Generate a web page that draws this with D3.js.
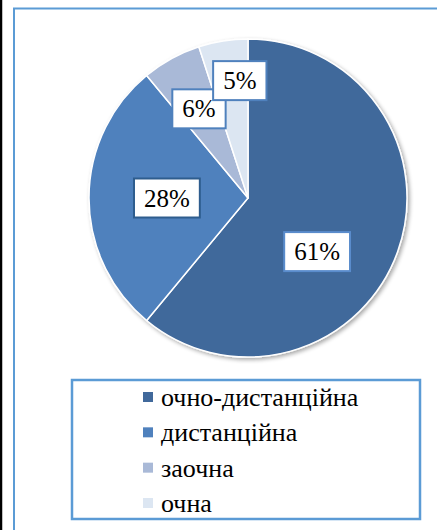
<!DOCTYPE html>
<html>
<head>
<meta charset="utf-8">
<script src="https://cdn.jsdelivr.net/npm/d3@7"></script>
<style>
  body { margin: 0; background: #fff; }
  #chart { position: relative; width: 437px; height: 530px; }
  #chart svg { position: absolute; left: 0; top: 0; }
  .txt { position: absolute; font-family: "Liberation Serif", "Times New Roman", serif;
         font-size: 25px; line-height: 1; color: #000; white-space: nowrap; }
  .leg { font-size: 26px; }
</style>
</head>
<body>
<div id="chart"></div>
<script>
// data
var categories = ["очно-дистанційна", "дистанційна", "заочна", "очна"];
var shares = [61, 28, 6, 5];
var labels = ["61%", "28%", "6%", "5%"];

var W = 437, H = 530;
var cx = 248, cy = 198, R = 159;

var colors = ["#41699b", "#4f81bd", "#a9b9d7", "#dce6f2"];
var labelBorders = ["#5a8ccc", "#2e5d8e", "#4f81bd", "#4f81bd"];
// label placement: radius fraction + angle nudge (deg), roughly Excel best-fit
var labelRadius = [0.55, 0.51, 0.64, 0.74];
var labelNudge = [18, 0, 0, 5];

var chart = d3.select("#chart");
var svg = chart.append("svg")
    .attr("width", W)
    .attr("height", H);

var defs = svg.append("defs");
var shadow = defs.append("filter").attr("id", "shadow")
    .attr("x", "-10%").attr("y", "-10%").attr("width", "120%").attr("height", "120%");
shadow.append("feGaussianBlur").attr("in", "SourceAlpha").attr("stdDeviation", 2);
shadow.append("feOffset").attr("dx", 1.5).attr("dy", 1.5).attr("result", "off");
shadow.append("feComponentTransfer").append("feFuncA").attr("type", "linear").attr("slope", 0.35);
var merge = shadow.append("feMerge");
merge.append("feMergeNode");
merge.append("feMergeNode").attr("in", "SourceGraphic");

// page frame bits
svg.append("line")
    .attr("x1", 1).attr("x2", 1).attr("y1", 0).attr("y2", H)
    .attr("stroke", "#000").attr("stroke-width", 2.5);
svg.append("path")
    .attr("d", "M14," + H + "V8.5H" + W)
    .attr("fill", "none")
    .attr("stroke", "#5b9bd5")
    .attr("stroke-width", 2);

var color = d3.scaleOrdinal().domain(categories).range(colors);

var pie = d3.pie().sort(null).value(function(d) { return d.v; });
var data = categories.map(function(c, i) { return {name: c, v: shares[i], label: labels[i], i: i}; });
var arcs = pie(data);

var arc = d3.arc().innerRadius(0).outerRadius(R);

var g = svg.append("g").attr("transform", "translate(" + cx + "," + cy + ")");

g.append("g")
    .attr("filter", "url(#shadow)")
    .selectAll("path")
    .data(arcs)
    .enter().append("path")
    .attr("d", arc)
    .attr("fill", function(d) { return color(d.data.name); })
    .attr("stroke", "#fff")
    .attr("stroke-width", 1.5)
    .attr("stroke-linejoin", "round");

function labelPos(d) {
    var a = (d.startAngle + d.endAngle) / 2 + labelNudge[d.data.i] * Math.PI / 180;
    var r = R * labelRadius[d.data.i];
    return [cx + r * Math.sin(a), cy - r * Math.cos(a)];
}

// data labels: box in svg, text as html on top
var boxes = svg.append("g");
arcs.forEach(function(d) {
    var p = labelPos(d);
    var t = chart.append("div")
        .attr("class", "txt")
        .text(d.data.label);
    var tw = t.node().getBoundingClientRect().width;
    var th = t.node().getBoundingClientRect().height;
    t.style("left", (p[0] - tw / 2) + "px")
     .style("top", (p[1] - th / 2) + "px");
    var w = tw + 20, h = 39;
    boxes.append("rect")
        .attr("x", p[0] - w / 2).attr("y", p[1] - h / 2)
        .attr("width", w).attr("height", h)
        .attr("fill", "#fff")
        .attr("stroke", labelBorders[d.data.i])
        .attr("stroke-width", 2);
});

// legend
var legend = svg.append("g");
legend.append("rect")
    .attr("x", 72).attr("y", 380)
    .attr("width", 348).attr("height", 139)
    .attr("fill", "#fff")
    .attr("stroke", "#5b9bd5")
    .attr("stroke-width", 2.5);

var ly = d3.scalePoint().domain(categories).range([397, 503]);

legend.selectAll(".sw")
    .data(categories)
    .enter().append("rect")
    .attr("class", "sw")
    .attr("x", 143).attr("y", function(d) { return ly(d) - 5; })
    .attr("width", 10).attr("height", 10)
    .attr("fill", function(d) { return color(d); });

categories.forEach(function(c) {
    var t = chart.append("div")
        .attr("class", "txt leg")
        .text(c);
    var th = t.node().getBoundingClientRect().height;
    t.style("left", "161px")
     .style("top", (ly(c) - th / 2 + 1) + "px");
});
</script>
</body>
</html>
